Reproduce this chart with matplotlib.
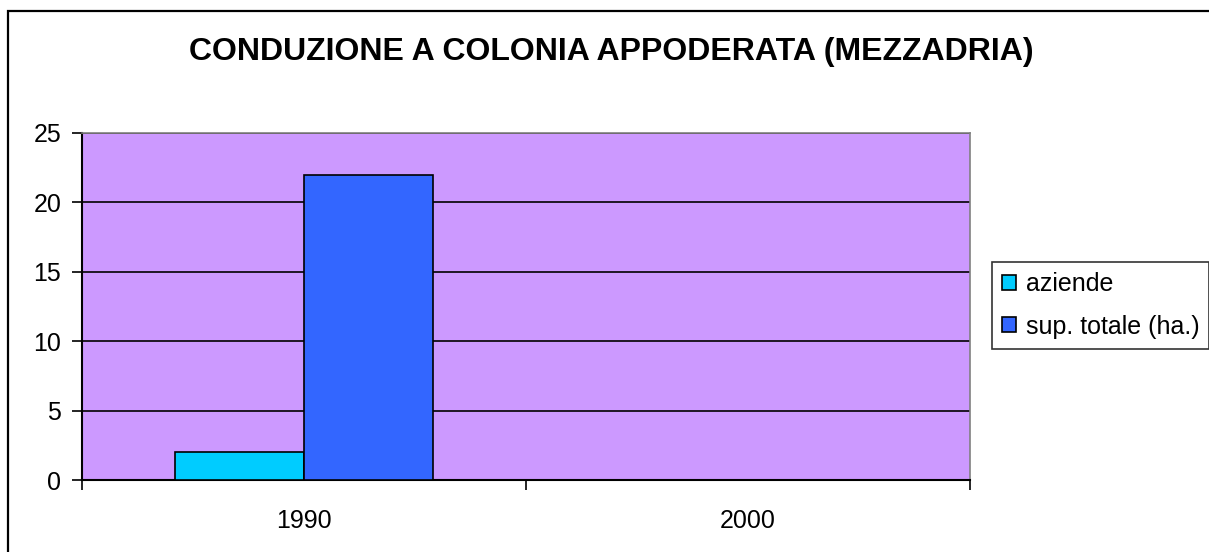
#!/usr/bin/env python3
"""Conduzione a colonia appoderata (mezzadria) — bar chart, Excel style."""
import numpy as np
import matplotlib
matplotlib.use("Agg")
import matplotlib.pyplot as plt
from matplotlib.patches import Rectangle

# ── Data ─────────────────────────────────────────────────────────────────────
YEARS = ["1990", "2000"]
AZIENDE = [2, 0]
SUP_TOTALE = [22, 0]
SERIES = [("aziende", AZIENDE, "#00CCFF"), ("sup. totale (ha.)", SUP_TOTALE, "#3366FF")]

plt.rcParams["font.family"] = ["Liberation Sans", "DejaVu Sans"]

fig = plt.figure(figsize=(12.09, 5.52), dpi=100)
fig.patch.set_facecolor("white")

# outer chart frame
fig.add_artist(Rectangle((8 / 1209, -0.01), 1.1, (552 - 11) / 552 + 0.01,
                         transform=fig.transFigure, fill=False,
                         edgecolor="black", linewidth=1.6))

ax = fig.add_axes([82 / 1209, (552 - 480) / 552, (970 - 82) / 1209, (480 - 133) / 552])
ax.set_facecolor("#CC99FF")

x = np.arange(len(YEARS))
w = 0.29
for i, (label, vals, color) in enumerate(SERIES):
    ax.bar(x + (i - 0.5) * w, vals, width=w, color=color, edgecolor="black",
           linewidth=1.2, label=label, zorder=3)

ax.set_xlim(-0.5, len(YEARS) - 0.5)
ax.set_ylim(0, 25)
ax.set_yticks(range(0, 26, 5))
ax.yaxis.grid(True, color="black", linewidth=1.2, zorder=1)
ax.set_axisbelow(True)

ax.set_xticks(x)
ax.set_xticklabels(YEARS)
ax.set_xticks(np.arange(-0.5, len(YEARS)), minor=True)
ax.tick_params(axis="x", which="major", length=0, pad=21, labelsize=18)
ax.tick_params(axis="x", which="minor", length=7, width=1.2, color="black")
ax.tick_params(axis="y", length=7, width=1.2, labelsize=18, pad=8)

for side in ("top", "right"):
    ax.spines[side].set_color("#808080")
    ax.spines[side].set_linewidth(1.2)
for side in ("left", "bottom"):
    ax.spines[side].set_color("black")
    ax.spines[side].set_linewidth(1.5)

fig.text(611 / 1209, 1 - 52 / 552, "CONDUZIONE A COLONIA APPODERATA (MEZZADRIA)",
         ha="center", va="center", fontsize=23, fontweight="bold")

leg = fig.legend(loc="upper left", bbox_to_anchor=(992 / 1209, 1 - 262 / 552),
                 frameon=True, fancybox=False, fontsize=18, handlelength=0.55,
                 handleheight=0.55, handletextpad=0.4, borderpad=0.4,
                 labelspacing=0.75, borderaxespad=0)
leg.get_frame().set_edgecolor("black")
leg.get_frame().set_linewidth(1.2)

fig.savefig("out.png", dpi=100)
